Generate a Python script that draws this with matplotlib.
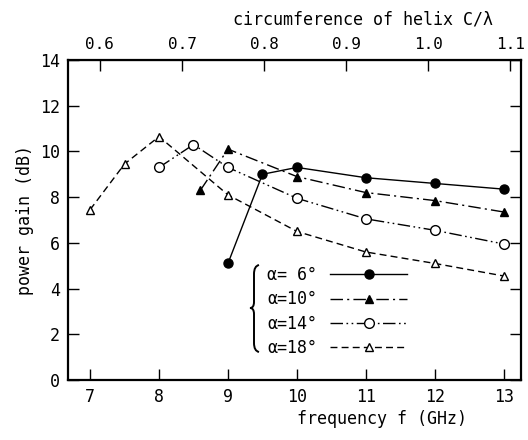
import numpy as np
import matplotlib
matplotlib.use('Agg')
from matplotlib import pyplot as plt
from matplotlib.path import Path
from matplotlib.patches import PathPatch

plt.rcParams['font.family'] = ['DejaVu Sans Mono']
plt.rcParams['font.size'] = 12

# Data: frequency (GHz) vs power gain (dB)
f_06 = [9.0, 9.5, 10, 11, 12, 13]
g_06 = [5.1, 9.0, 9.3, 8.85, 8.6, 8.35]

f_10 = [8.6, 9.0, 10, 11, 12, 13]
g_10 = [8.3, 10.1, 8.9, 8.2, 7.85, 7.35]

f_14 = [8.0, 8.5, 9.0, 10, 11, 12, 13]
g_14 = [9.3, 10.3, 9.3, 7.95, 7.05, 6.55, 5.95]

f_18 = [7.0, 7.5, 8.0, 9.0, 10, 11, 12, 13]
g_18 = [7.45, 9.45, 10.65, 8.1, 6.5, 5.6, 5.1, 4.55]

labels = ['α= 6°', 'α=10°', 'α=14°', 'α=18°']

# C/lambda is proportional to frequency
k = 0.0840

fig = plt.figure(figsize=(5.28, 4.4), dpi=100)
ax = fig.add_axes([68/528, 60/440, 453/528, 320/440])

lw = 1.0
h1, = ax.plot(f_06, g_06, '-', color='k', lw=lw, marker='o', ms=6.5,
              mfc='k', mec='k')
h2, = ax.plot(f_10, g_10, color='k', lw=lw, ls=(0, (9, 3, 1.5, 3)),
              marker='^', ms=5.5, mfc='k', mec='k')
h3, = ax.plot(f_14, g_14, color='k', lw=lw, ls=(0, (9, 2.5, 1.2, 2.5, 1.2, 2.5)),
              marker='o', ms=7, mfc='white', mec='k', mew=1.0)
h4, = ax.plot(f_18, g_18, color='k', lw=lw, ls=(0, (5, 3)),
              marker='^', ms=5.5, mfc='white', mec='k', mew=1.0)

ax.set_xlim(6.68, 13.25)
ax.set_ylim(0, 14)
ax.set_xticks([7, 8, 9, 10, 11, 12, 13])
ax.set_yticks([0, 2, 4, 6, 8, 10, 12, 14])
ax.tick_params(direction='in', length=8, width=1.0, right=True, pad=6)
for s in ax.spines.values():
    s.set_linewidth(1.6)

ax.set_ylabel('power gain (dB)', labelpad=4)
ax.set_xlabel('frequency f (GHz)')
ax.xaxis.set_label_coords((382-68)/453, -0.095)

sec = ax.secondary_xaxis('top', functions=(lambda f: f * k, lambda c: c / k))
sec.set_xticks([0.6, 0.7, 0.8, 0.9, 1.0, 1.1])
sec.set_xticklabels(['0.6', '0.7', '0.8', '0.9', '1.0', '1.1'])
sec.tick_params(direction='in', length=8, width=1.0, pad=6, labelsize=11.5)
fig.text(363/528, 1 - 20/440, 'circumference of helix C/λ',
         ha='center', va='center', fontsize=12)

leg = ax.legend([h1, h2, h3, h4], labels, loc='upper left',
                bbox_to_anchor=((267-68)/453, (380-266)/320),
                frameon=False, markerfirst=False, handlelength=4.6,
                handletextpad=0.8, labelspacing=0.38, borderpad=0,
                borderaxespad=0, fontsize=12)

# thin curly brace in front of the legend (figure pixel coords -> axes coords)
def px(x, y):
    return ((x - 68) / 453, (380 - y) / 320)

brace = [(259, 265), (254, 266), (254, 274),
         (254, 302),
         (254, 308), (250, 308),
         (254, 308), (254, 314),
         (254, 343),
         (254, 351), (259, 352)]
codes = [Path.MOVETO, Path.CURVE3, Path.CURVE3,
         Path.LINETO,
         Path.CURVE3, Path.CURVE3,
         Path.CURVE3, Path.CURVE3,
         Path.LINETO,
         Path.CURVE3, Path.CURVE3]
ax.add_patch(PathPatch(Path([px(*p) for p in brace], codes),
                       transform=ax.transAxes, fill=False, lw=1.4,
                       edgecolor='k', clip_on=False))

fig.savefig('out.png', dpi=100)
